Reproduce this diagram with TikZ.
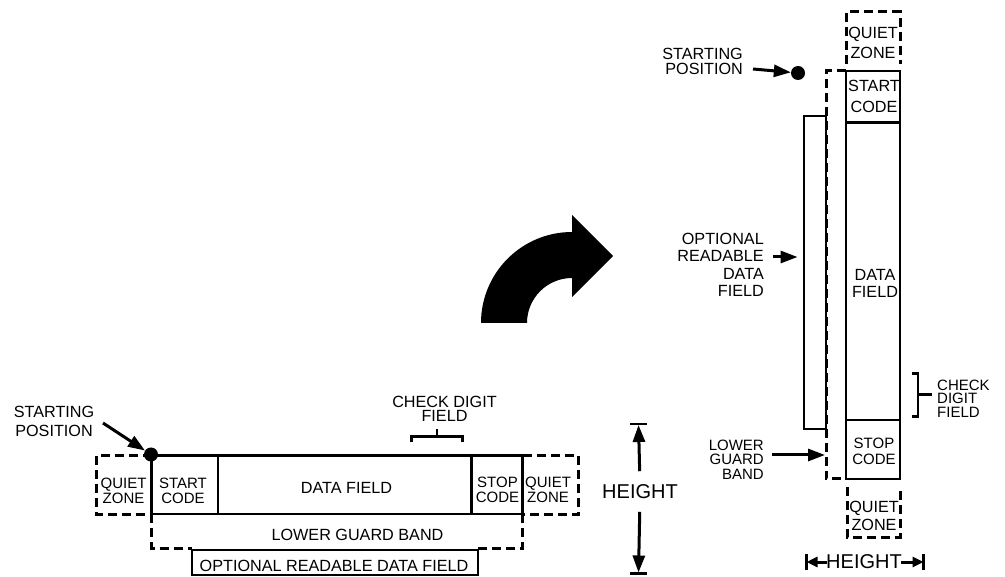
\documentclass[tikz,border=0pt]{standalone}
\usepackage{fontspec}
\setmainfont{Liberation Sans}
\usetikzlibrary{arrows.meta}
\begin{document}
\begin{tikzpicture}[x=1pt,y=-1pt,
  bx/.style={line width=2.9pt},
  dsh/.style={line width=3pt,dash pattern=on 9pt off 5pt},
  lbl/.style={font=\fontsize{16.2}{#1}\selectfont,inner sep=0pt,align=center},
  lbl/.default=14,
  slbl/.style={font=\fontsize{15}{#1}\selectfont,inner sep=0pt,align=center},
  slbl/.default=15,
  big/.style={font=\fontsize{20}{20}\selectfont,inner sep=0pt},
  ptr/.style={line width=3pt,-{Triangle[length=17pt,width=12pt]}},
  sptr/.style={line width=3pt,-{Triangle[length=11pt,width=10pt]}},
  dot/.style={circle,fill=black,inner sep=0pt,minimum size=14pt},
]
\useasboundingbox (0,0) rectangle (1005,577);

%%%%%%%% horizontal bar code %%%%%%%%
\draw[dsh] (151.5,455.5) -- (96,455.5) -- (96,514.5) -- (151.5,514.5);
\draw[dsh] (522.5,455.5) -- (578,455.5) -- (578,514.5) -- (522.5,514.5);
\draw[dsh] (151.5,514) -- (151.5,548) -- (192,548);
\draw[dsh] (478,548) -- (522.5,548) -- (522.5,514);
\draw[bx] (151.5,455.5) rectangle (522.5,514);
\draw[bx] (218,455.5) -- (218,514);
\draw[bx] (471.5,455.5) -- (471.5,514);
\node[draw,bx,minimum width=286pt,minimum height=25pt,inner sep=0pt] (optH) at (335,562.5) {};
\node[lbl] (optHt) at (334,566) {OPTIONAL READABLE DATA FIELD};

\node[slbl] (qzL) at (123.5,491) {QUIET\\ZONE};
\node[slbl] (scL) at (183,491) {START\\CODE};
\node[lbl] (dfL) at (346.5,487.5) {DATA FIELD};
\node[slbl] (spL) at (497.5,490) {STOP\\CODE};
\node[slbl] (qzR) at (548,490) {QUIET\\ZONE};
\node[lbl] (lgbH) at (357.5,535) {LOWER GUARD BAND};

\node[dot] (dotH) at (151,454.5) {};
\node[lbl=19] (spH) at (54,421) {STARTING\\POSITION};
\coordinate (spHtail) at (103,423);
\draw[ptr] (spHtail) -- (dotH);

\node[lbl=14.5] (cdH) at (444.5,409) {CHECK DIGIT\\FIELD};
\draw[bx] (411.5,442.5) -- (411.5,436.5) -- (462.5,436.5) -- (462.5,442.5);
\draw[bx] (437,436.5) -- (437,429);

%%%%%%%% height (left) %%%%%%%%
\node[big] (hL) at (640,491.5) {HEIGHT};
\coordinate (hLtop) at (638.5,424);
\coordinate (hLbot) at (638.5,573.5);
\draw[bx] (630,424) -- (647,424);
\draw[bx] (630,573.5) -- (647,573.5);
\draw[ptr,shorten <=13pt,shorten >=1pt] (hL.north) -- (hLtop);
\draw[ptr,shorten <=13pt,shorten >=1pt] (hL.south) -- (hLbot);

%%%%%%%% curved arrow %%%%%%%%
\fill (481,323) arc[start angle=180,end angle=270,radius=91]
  -- (572,215) -- (613,256) -- (572,297) -- (572,278)
  arc[start angle=270,end angle=180,radius=45] -- cycle;

%%%%%%%% vertical bar code %%%%%%%%
\draw[dsh] (846,64) -- (846,12) -- (900,12) -- (900,64);
\draw[dsh] (846,71) -- (826,71) -- (826,479) -- (846,479);
\draw[dsh] (847,487) -- (847,537) -- (900,537) -- (900,487);
\draw[bx] (846,71) rectangle (900,479);
\draw[bx] (846,122.5) -- (900,122.5);
\draw[bx] (846,420) -- (900,420);
\node[draw,bx,minimum width=22pt,minimum height=313pt,inner sep=0pt] (optV) at (815,272.5) {};

\node[lbl=20] (qzT) at (873,43) {QUIET\\ZONE};
\node[lbl=21] (scV) at (874,96.5) {START\\CODE};
\node[lbl=16.5] (dfV) at (875,283.5) {DATA\\FIELD};
\node[slbl=15.5] (spV) at (874,451.5) {STOP\\CODE};
\node[lbl=17.5] (qzB) at (874,516) {QUIET\\ZONE};

\node[dot] (dotV) at (798,73) {};
\node[lbl=15,anchor=east,align=right] (spVt) at (743,61.5) {STARTING\\POSITION};
\coordinate (spVtail) at (753,69);
\draw[ptr] (spVtail) -- (dotV);

\node[lbl=17.5,anchor=east,align=right] (optVt) at (764,265) {OPTIONAL\\READABLE\\DATA\\FIELD};
\coordinate (optVtail) at (773,257);
\draw[ptr,shorten >=5pt] (optVtail) -- (optVtail -| optV.west);

\node[slbl=14.5,anchor=east,align=right] (lgbV) at (764,459.5) {LOWER\\GUARD\\BAND};
\coordinate (lgbVtail) at (772,455);
\coordinate (lgbVedge) at (825,455);
\draw[ptr] (lgbVtail) -- (lgbVedge);

\draw[bx] (911.5,373.5) -- (918,373.5) -- (918,416.5) -- (911.5,416.5);
\draw[bx] (918,394.5) -- (932,394.5);
\node[slbl=13.5,anchor=west,align=left] (cdV) at (937,398.5) {CHECK\\DIGIT\\FIELD};

%%%%%%%% height (bottom) %%%%%%%%
\node[big] (hB) at (864,562) {HEIGHT};
\coordinate (hBl) at (806.5,562);
\coordinate (hBr) at (923.5,562);
\draw[bx] (806.5,554) -- (806.5,570);
\draw[bx] (923.5,554) -- (923.5,570);
\draw[sptr,shorten <=-1pt] (hB.west) -- (hBl);
\draw[sptr,shorten <=-1pt] (hB.east) -- (hBr);
\end{tikzpicture}
\end{document}
